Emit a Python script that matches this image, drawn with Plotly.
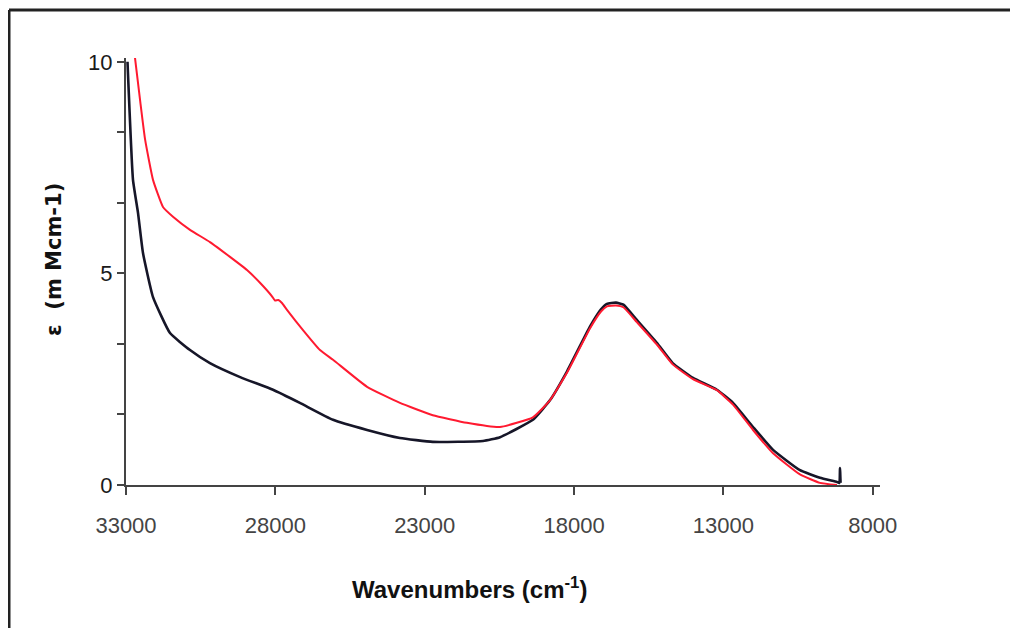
import plotly.graph_objects as go

# Black trace (wavenumber, epsilon)
black_wn = [32950, 32766, 32598, 32431, 32096, 31527, 30858, 30190, 29180, 28080,
            27180, 26070, 24930, 23830, 22730, 21050, 20480, 19380, 18810, 18240,
            17470, 17100, 16900, 16600, 16350, 15900, 15230, 14700, 14020,
            13220, 12680, 12010, 11340, 10440, 9770, 9200, 9120, 9100, 9080]
black_eps = [10.0, 7.21, 6.43, 5.48, 4.44, 3.59, 3.19, 2.88, 2.55, 2.25,
             1.94, 1.54, 1.30, 1.11, 1.02, 1.04, 1.13, 1.54, 2.0, 2.68,
             3.74, 4.15, 4.28, 4.31, 4.26, 3.90, 3.36, 2.88, 2.53,
             2.25, 1.94, 1.37, 0.83, 0.35, 0.17, 0.07, 0.05, 0.40, 0.05]

# Red trace
red_wn = [32700, 32530, 32360, 32096, 31762, 31427, 30858, 30189, 29519, 28950,
          28515, 28113, 28013, 27900, 27779, 27611, 27075, 26507, 26070, 24930,
          23830, 22730, 21590, 20480, 19380, 18810, 18240, 17470, 17100,
          16900, 16600, 16350, 15900, 15230, 14700, 14020, 13220, 12680, 12010,
          11340, 10440, 9770, 9200]
red_eps = [10.1, 9.1, 8.16, 7.21, 6.57, 6.34, 6.03, 5.74, 5.39, 5.08,
           4.78, 4.46, 4.36, 4.37, 4.30, 4.14, 3.66, 3.19, 2.96, 2.32,
           1.94, 1.65, 1.47, 1.37, 1.60, 2.0, 2.65, 3.70, 4.10,
           4.22, 4.24, 4.20, 3.85, 3.32, 2.85, 2.50, 2.24, 1.90, 1.30,
           0.75, 0.25, 0.05, 0.0]

x_ticks = [33000, 28000, 23000, 18000, 13000, 8000]
y_ticks = [0, 5/3, 10/3, 5, 20/3, 25/3, 10]
y_ticktext = ["0", "", "", "5", "", "", "10"]

W, H = 1018, 628
OFF = 8  # page offset of the figure inside the browser
# plot area in page pixels: x 126..880, y 58..485
L = 126 - OFF
T = 58 - OFF
R = W - (880 - OFF)
B = H - (485 - OFF)
pw, ph = W - L - R, H - T - B

def px(x):
    return (x - OFF - L) / pw

def py(y):
    return (H - B - (y - OFF)) / ph

fig = go.Figure()
fig.add_trace(go.Scatter(x=black_wn, y=black_eps, mode="lines",
                         line=dict(color="#161628", width=2.6, shape="spline", smoothing=0.4),
                         showlegend=False))
fig.add_trace(go.Scatter(x=red_wn, y=red_eps, mode="lines",
                         line=dict(color="#ff1a30", width=2.0, shape="spline", smoothing=0.4),
                         showlegend=False))

fig.update_layout(
    width=W, height=H,
    margin=dict(l=L, r=R, t=T, b=B),
    paper_bgcolor="white", plot_bgcolor="white",
    font=dict(family="Liberation Sans, Arial, sans-serif"),
    xaxis=dict(range=[33000, 7760], tickvals=x_ticks,
               ticktext=[str(v) for v in x_ticks],
               showgrid=False, zeroline=False, showline=True,
               linecolor="#444444", linewidth=2,
               ticks="outside", ticklen=8, tickcolor="#444444", tickwidth=2,
               tickfont=dict(size=22, color="#444444"), ticklabelstandoff=12),
    yaxis=dict(range=[0, 10.09], tickvals=y_ticks, ticktext=y_ticktext,
               showgrid=False, zeroline=False, showline=True,
               linecolor="#444444", linewidth=2,
               ticks="outside", ticklen=7, tickcolor="#444444", tickwidth=2,
               tickfont=dict(size=22, color="#1a1a1a"), ticklabelstandoff=0),
    shapes=[
        dict(type="line", xref="paper", yref="paper",
             x0=px(9), x1=px(9), y0=py(10), y1=py(650),
             line=dict(color="#222222", width=3)),
        dict(type="line", xref="paper", yref="paper",
             x0=px(9), x1=px(1040), y0=py(10), y1=py(10),
             line=dict(color="#222222", width=3)),
    ],
    annotations=[
        dict(text="<b>ε  (m Mcm-1)</b>", xref="paper", yref="paper",
             x=px(54), y=py(260), textangle=-90, showarrow=False,
             font=dict(size=21, color="#111111", family="DejaVu Sans, sans-serif"),
             xanchor="center", yanchor="middle"),
        dict(text="<b>Wavenumbers (cm<sup>-1</sup>)</b>", xref="paper", yref="paper",
             x=px(469), y=py(588), showarrow=False,
             font=dict(size=24, color="#111111"), xanchor="center", yanchor="middle"),
    ],
)

fig.write_html("out.html")
